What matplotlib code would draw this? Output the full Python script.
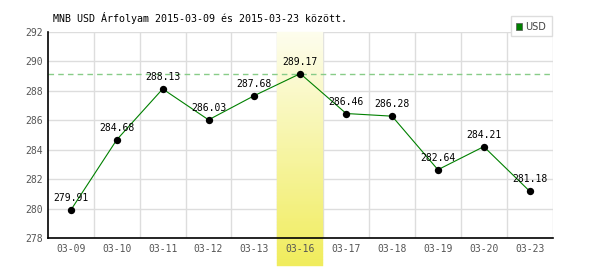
import matplotlib
matplotlib.use("Agg")
import matplotlib.pyplot as plt
import numpy as np
from matplotlib.patches import Rectangle

categories = ["03-09", "03-10", "03-11", "03-12", "03-13", "03-16",
              "03-17", "03-18", "03-19", "03-20", "03-23"]
values = [279.91, 284.68, 288.13, 286.03, 287.68, 289.17,
          286.46, 286.28, 282.64, 284.21, 281.18]
highlight_label = "03-16"
series_name = "USD"
title = "MNB USD Árfolyam 2015-03-09 és 2015-03-23 között."
y_ticks = [278, 280, 282, 284, 286, 288, 290, 292]

fig = plt.figure(figsize=(6, 2.7), dpi=100)
ax = fig.add_axes([0.08, 0.1185, 0.841, 0.763])
x = np.arange(len(categories))

ax.set_xlim(-0.5, len(categories) - 0.5)
ax.set_ylim(278, 292)

# grid
for yt in y_ticks:
    ax.axhline(yt, color="#dddddd", lw=1, zorder=1)
for b in np.arange(0.5, len(categories), 1.0):
    ax.axvline(b, color="#dddddd", lw=1, zorder=1)

# highlight gradient as strips
hi = categories.index(highlight_label)
top_c = np.array([253, 253, 238]) / 255
bot_c = np.array([240, 236, 92]) / 255
y_top, y_bot = 292.0, 276.1
n = 80
edges = np.linspace(y_top, y_bot, n + 1)
for i in range(n):
    f = (i + 0.5) / n
    c = top_c * (1 - f) + bot_c * f
    ax.add_patch(Rectangle((hi - 0.5, edges[i + 1]), 1.0, edges[i] - edges[i + 1],
                           facecolor=c, edgecolor=c, lw=0.3, zorder=2, clip_on=False))

# max dashed line
ax.axhline(max(values), color="#88cc88", lw=1, ls=(0, (4, 3)), zorder=3)

ax.plot(x, values, color="#008000", lw=0.8, zorder=4)
ax.scatter(x, values, s=28, color="black", zorder=5, linewidths=0)
for xi, v in zip(x, values):
    ax.annotate(f"{v:.2f}", (xi, v), xytext=(0, 5), textcoords="offset points",
                ha="center", va="bottom", fontsize=7, family="DejaVu Sans Mono",
                color="black", zorder=6)

ax.set_xticks(x)
ax.set_xticklabels(categories)
ax.set_yticks(y_ticks)
ax.tick_params(length=0, labelsize=7, colors="#555555", pad=4)
for lab in ax.get_xticklabels() + ax.get_yticklabels():
    lab.set_family("DejaVu Sans Mono")
ax.xaxis.set_zorder(8)
ax.yaxis.set_zorder(8)

for s in ["top", "right"]:
    ax.spines[s].set_visible(False)
for s in ["left", "bottom"]:
    ax.spines[s].set_color("black")
    ax.spines[s].set_linewidth(1.2)
    ax.spines[s].set_zorder(9)

fig.text(53 / 600, 1 - 18 / 270, title, fontsize=7.2, family="DejaVu Sans Mono",
         va="center", ha="left", color="black")

# legend box
fig.patches.append(Rectangle((511 / 600, 1 - 36 / 270), 41 / 600, 20 / 270,
                             transform=fig.transFigure, facecolor="white",
                             edgecolor="#dddddd", lw=1, zorder=10))
fig.patches.append(Rectangle((516 / 600, 1 - 29.5 / 270), 6 / 600, 6 / 270,
                             transform=fig.transFigure, facecolor="#008000",
                             edgecolor="#555555", lw=0.5, zorder=11))
fig.text(525 / 600, 1 - 26.5 / 270, series_name, fontsize=7, family="DejaVu Sans",
         va="center", ha="left", color="#444444", zorder=12)

fig.savefig("out.png", dpi=100)
